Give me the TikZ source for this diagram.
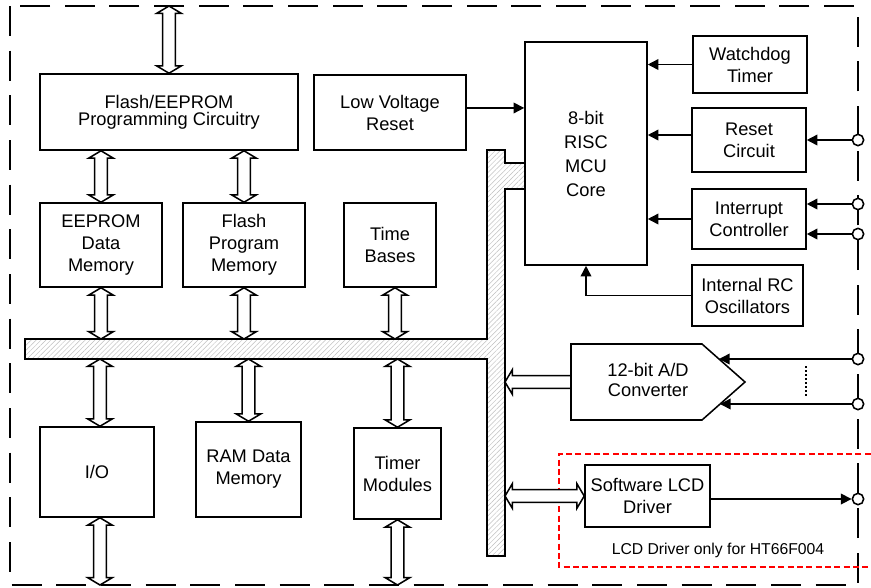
\documentclass[tikz,border=0pt]{standalone}
\usepackage{fontspec}
\setmainfont{Liberation Sans}
\usetikzlibrary{arrows.meta,patterns.meta,calc}
\def\arHW{9.2pt}
\def\arSW{4.8pt}
\def\arHL{5.5pt}
\newcommand{\vdbl}[2]{%
  \draw[hollow] let \p1=#1, \p2=#2 in
  (\x1,\y1) -- ({\x1+\arHW},{\y1-\arHL}) -- ({\x1+\arSW},{\y1-\arHL}) -- ({\x1+\arSW},{\y2+\arHL}) -- ({\x1+\arHW},{\y2+\arHL}) -- (\x1,\y2) -- ({\x1-\arHW},{\y2+\arHL}) -- ({\x1-\arSW},{\y2+\arHL}) -- ({\x1-\arSW},{\y1-\arHL}) -- ({\x1-\arHW},{\y1-\arHL}) -- cycle;}
\newcommand{\hdbl}[2]{%
  \draw[hollow] let \p1=#1, \p2=#2 in
  (\x1,\y1) -- ({\x1+\arHL},{\y1+\arHW}) -- ({\x1+\arHL},{\y1+\arSW}) -- ({\x2-\arHL},{\y1+\arSW}) -- ({\x2-\arHL},{\y1+\arHW}) -- (\x2,\y1) -- ({\x2-\arHL},{\y1-\arHW}) -- ({\x2-\arHL},{\y1-\arSW}) -- ({\x1+\arHL},{\y1-\arSW}) -- ({\x1+\arHL},{\y1-\arHW}) -- cycle;}
\newcommand{\hsgl}[2]{%
  \draw[hollow] let \p1=#1, \p2=#2 in
  (\x1,\y1) -- ({\x1+\arHL},{\y1+\arHW}) -- ({\x1+\arHL},{\y1+\arSW}) -- (\x2,{\y1+\arSW}) -- (\x2,{\y1-\arSW}) -- ({\x1+\arHL},{\y1-\arSW}) -- ({\x1+\arHL},{\y1-\arHW}) -- cycle;}
\begin{document}
\begin{tikzpicture}[x=0.75pt,y=-0.75pt,
  lbl/.style={font=\fontsize{13.7pt}{16.5pt}\selectfont, align=center},
  blk/.style={lbl, draw, line width=1.15pt, fill=white, inner sep=0pt},
  sz/.style 2 args={minimum width=#1*0.75pt, minimum height=#2*0.75pt},
  hollow/.style={draw, fill=white, line width=1.15pt, line join=miter},
  sig/.style={line width=1.15pt, -{Triangle[length=8pt,width=8pt]}},
  term/.style={circle, draw, line width=1.15pt, fill=white, minimum size=8.5pt, inner sep=0pt}]
\useasboundingbox (0,0) rectangle (871,587);

% outer dashed border
\draw[line width=1.3pt, dash pattern=on 22.5pt off 11pt] (10,6) rectangle (858,585);
% red dashed region
\draw[red, line width=1.1pt, dash pattern=on 4.5pt off 2.5pt] (880,454) -- (559,454) -- (559,567) -- (880,567);

% named reference lines
\coordinate (topB) at (0,6);
\coordinate (botB) at (0,585);
\coordinate (busT) at (0,339);
\coordinate (busB) at (0,359);
\coordinate (busR) at (505,0);

% hatched bus
\draw[line width=1.15pt, preaction={fill=white}, pattern={Lines[angle=45,distance=2.6pt,line width=0.35pt]}, pattern color=gray!50]
  (25,339) -- (487,339) -- (487,150) -- (505,150) -- (505,163) -- (525,163) -- (525,189) -- (505,189) -- (505,556) -- (487,556) -- (487,359) -- (25,359) -- cycle;

% blocks
\node[blk, sz={258}{76}, font=\fontsize{13.7pt}{12.8pt}\selectfont] (fe) at (169,112) {Flash/EEPROM\\Programming Circuitry};
\node[blk, sz={122}{84}] (eeprom) at (101,245) {EEPROM\\Data\\Memory};
\node[blk, sz={122}{84}] (fpm) at (244,245) {Flash\\Program\\Memory};
\node[blk, sz={92}{84}] (tb) at (390,245) {Time\\Bases};
\node[blk, sz={152}{75}] (lvr) at (390,112.5) {Low Voltage\\Reset};
\node[blk, sz={122}{223}, font=\fontsize{13.7pt}{18pt}\selectfont] (mcu) at (586,153.5) {8-bit\\RISC\\MCU\\Core};
\node[blk, sz={114}{57}] (wdt) at (750,64.5) {Watchdog\\Timer};
\node[blk, sz={114}{64}] (rst) at (749,140) {Reset\\Circuit};
\node[blk, sz={114}{60}] (intc) at (749,219) {Interrupt\\Controller};
\node[blk, sz={111}{61}] (rc) at (747.5,295.5) {Internal RC\\Oscillators};
\node[blk, sz={114}{90}] (io) at (97,472) {I/O};
\node[blk, sz={105}{95}] (ram) at (248.5,469.5) {RAM Data\\Memory};
\node[blk, sz={87}{91}] (tmr) at (397.5,473.5) {Timer\\Modules};
\node[blk, sz={125}{62}] (lcd) at (647.5,496) {Software LCD\\Driver};

% A/D converter
\draw[line width=1.15pt, fill=white] (571,344) -- (702,344) -- (745,382) -- (702,420) -- (571,420) -- cycle;
\node[lbl, font=\fontsize{13.7pt}{15.5pt}\selectfont] (adc) at (648,380) {12-bit A/D\\Converter};
\coordinate (adin1) at (719,359);
\coordinate (adin2) at (720,404);
\coordinate (adout) at (571,382);
\draw[line width=1.1pt, dash pattern=on 1.5pt off 1.5pt] (806,366) -- (806,398);

\node[font=\fontsize{11.8pt}{14pt}\selectfont] (note) at (718,550) {LCD Driver only for HT66F004};

% terminals
\node[term] (c1) at (858,140) {};
\node[term] (c2) at (858,204) {};
\node[term] (c3) at (858,234) {};
\node[term] (c4) at (858,359) {};
\node[term] (c5) at (858,404) {};
\node[term] (c6) at (858,499) {};

% signal arrows
\coordinate (lvrout) at ([yshift=3.4pt]lvr.east);
\draw[sig] (lvrout) -- (lvrout -| mcu.west);
\draw[sig] (wdt.west) -- (wdt.west -| mcu.east);
\coordinate (rstout) at ([yshift=3.75pt]rst.west);
\draw[sig] (rstout) -- (rstout -| mcu.east);
\draw[sig] (intc.west) -- (intc.west -| mcu.east);
\draw[sig] (rc.west) -| (mcu.south);
\draw[sig] (c1) -- (rst.east);
\draw[sig] (c2) -- (c2 -| intc.east);
\draw[sig] (c3) -- (c3 -| intc.east);
\draw[sig] (c4) -- (adin1);
\draw[sig] (c5) -- (adin2);
\coordinate (lcdout) at (lcd.east |- c6);
\draw[sig] (lcdout) -- (c6);

% hollow bus arrows
\vdbl{(fe.north |- topB)}{(fe.north)}
\vdbl{(eeprom.north |- fe.south)}{(eeprom.north)}
\vdbl{(eeprom.south)}{(eeprom.south |- busT)}
\vdbl{(fpm.north |- fe.south)}{(fpm.north)}
\vdbl{(fpm.south)}{(fpm.south |- busT)}
\coordinate (tbx) at ([xshift=3.75pt]tb.south);
\vdbl{(tbx)}{(tbx |- busT)}
\coordinate (iox) at ([xshift=2.25pt]io.north);
\vdbl{(iox |- busB)}{(iox)}
\vdbl{(ram.north |- busB)}{(ram.north)}
\vdbl{(tmr.north |- busB)}{(tmr.north)}
\vdbl{(iox |- io.south)}{(iox |- botB)}
\vdbl{(tmr.south)}{(tmr.south |- botB)}
\hsgl{(busR |- adout)}{(adout)}
\hdbl{(busR |- lcd.west)}{(lcd.west)}
\end{tikzpicture}
\end{document}
